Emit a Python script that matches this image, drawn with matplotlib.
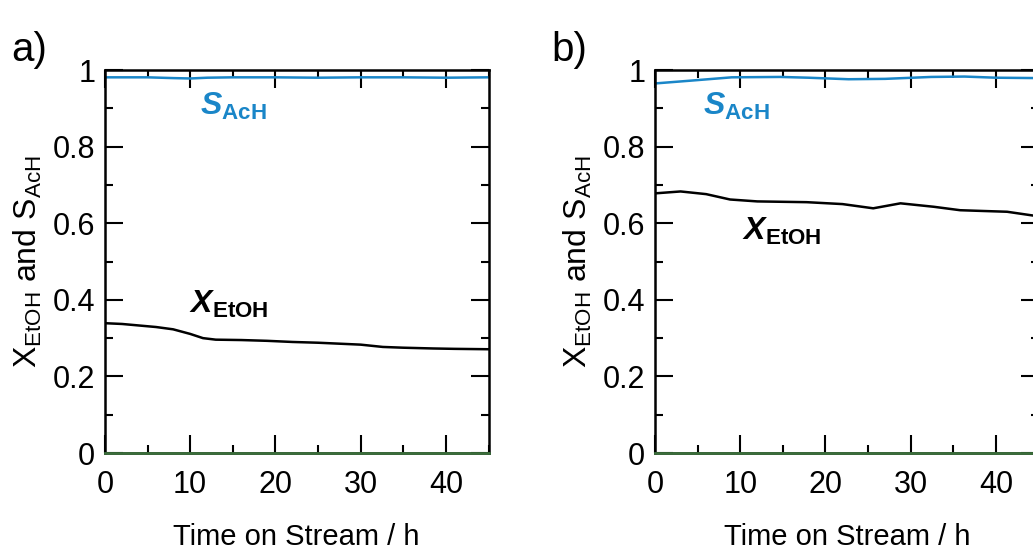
import matplotlib.pyplot as plt
from matplotlib.ticker import MultipleLocator

plt.rcParams["font.family"] = ["Liberation Sans", "DejaVu Sans"]
plt.rcParams["mathtext.fontset"] = "custom"
plt.rcParams["mathtext.rm"] = "Liberation Sans"
plt.rcParams["mathtext.it"] = "Liberation Sans:italic"
plt.rcParams["mathtext.bf"] = "Liberation Sans:bold"
plt.rcParams["mathtext.bfit"] = "Liberation Sans:bold:italic"

# panel a
a_time = [0, 2, 4, 6, 8, 10, 11.5, 13, 16, 19, 22, 25, 27, 30, 32.6, 35, 38.5, 41, 45]
a_conv = [0.339, 0.337, 0.333, 0.329, 0.323, 0.311, 0.300, 0.296, 0.295, 0.293,
          0.290, 0.288, 0.286, 0.283, 0.277, 0.275, 0.273, 0.272, 0.271]
a_sel_time = [0, 5, 8, 10, 12, 15, 20, 25, 30, 35, 40, 45]
a_sel = [0.981, 0.981, 0.979, 0.978, 0.980, 0.981, 0.981, 0.980, 0.981, 0.981, 0.980, 0.981]

# panel b
b_time = [0, 3, 6, 8.8, 12, 17.8, 22, 25.6, 28.8, 32.7, 35.8, 38.5, 41.3, 45]
b_conv = [0.678, 0.683, 0.676, 0.662, 0.657, 0.655, 0.650, 0.639, 0.652, 0.643,
          0.634, 0.632, 0.630, 0.618]
b_sel_time = [0, 4, 9, 14.7, 18, 22.7, 27, 32.4, 36.3, 40, 45]
b_sel = [0.965, 0.972, 0.981, 0.982, 0.980, 0.976, 0.977, 0.982, 0.983, 0.980, 0.979]

zero_time = [0, 45]
zero_val = [0, 0]

blue = "#1a86c8"
green = "#3b6e3b"

fig = plt.figure(figsize=(10.33, 5.52), dpi=100)
ax_a = fig.add_axes([0.1016, 0.1793, 0.3713, 0.6938])
ax_b = fig.add_axes([0.6341, 0.1793, 0.3713, 0.6938])

panels = [
    (ax_a, a_time, a_conv, a_sel_time, a_sel, (11.1, 0.882), (9.9, 0.366)),
    (ax_b, b_time, b_conv, b_sel_time, b_sel, (5.6, 0.882), (10.2, 0.556)),
]

for ax, t, conv, ts, sel, s_pos, x_pos in panels:
    ax.plot(zero_time, zero_val, color=green, lw=2, clip_on=False, zorder=3)
    ax.plot(ts, sel, color=blue, lw=1.8)
    ax.plot(t, conv, color="black", lw=1.8)
    ax.set_xlim(0, 45)
    ax.set_ylim(0, 1)
    ax.xaxis.set_major_locator(MultipleLocator(10))
    ax.xaxis.set_minor_locator(MultipleLocator(5))
    ax.yaxis.set_minor_locator(MultipleLocator(0.1))
    ax.set_yticks([0, 0.2, 0.4, 0.6, 0.8, 1])
    ax.set_yticklabels(["0", "0.2", "0.4", "0.6", "0.8", "1"])
    ax.tick_params(which="both", direction="in", top=True, right=True,
                   labelsize=22, width=1.5)
    ax.tick_params(which="major", length=13)
    ax.tick_params(which="minor", length=6)
    ax.tick_params(axis="x", pad=12)
    ax.tick_params(axis="y", pad=7)
    for sp in ax.spines.values():
        sp.set_linewidth(1.8)
    ax.set_xlabel("Time on Stream / h", fontsize=21, labelpad=17)
    ax.set_ylabel(r"X$_{\mathregular{EtOH}}$ and S$_{\mathregular{AcH}}$", fontsize=23, labelpad=6)
    ax.text(s_pos[0], s_pos[1], r"$\mathbfit{S}_{\mathbf{AcH}}$", color=blue,
            fontsize=23, ha="left", va="baseline")
    ax.text(x_pos[0], x_pos[1], r"$\mathbfit{X}_{\mathbf{EtOH}}$", color="black",
            fontsize=23, ha="left", va="baseline")

fig.text(0.011, 0.89, "a)", fontsize=29)
fig.text(0.534, 0.89, "b)", fontsize=29)

fig.savefig("out.png", dpi=100)
